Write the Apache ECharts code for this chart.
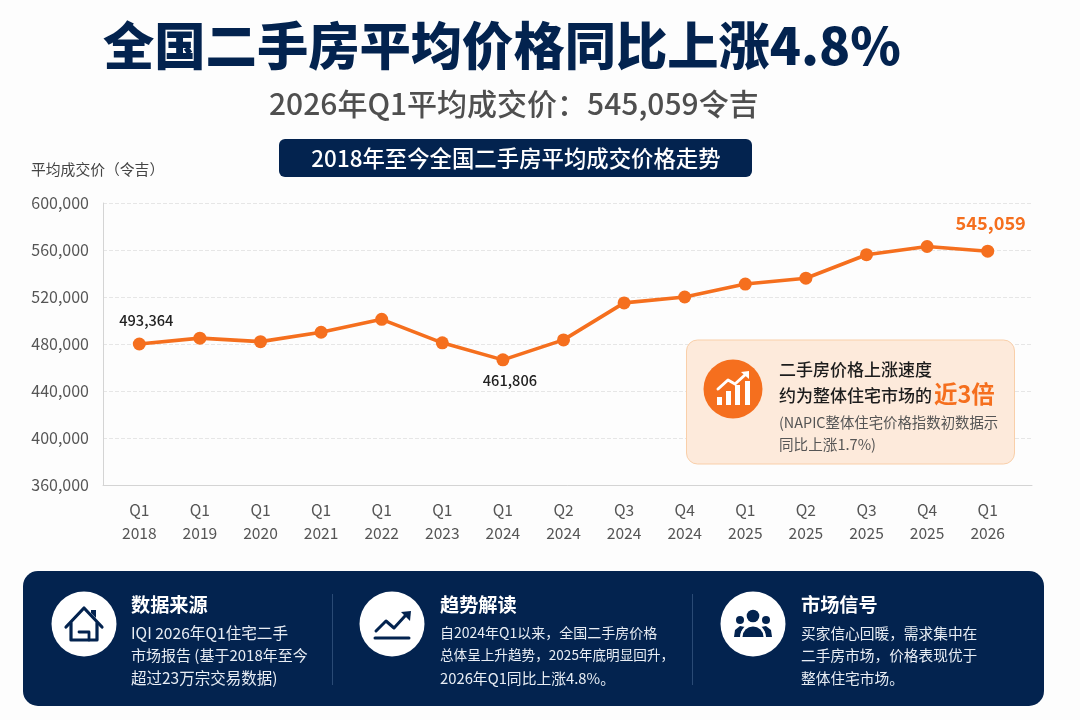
<!DOCTYPE html>
<html><head><meta charset="utf-8">
<script src="https://cdn.jsdelivr.net/npm/echarts@6/dist/echarts.min.js"></script>
<style>html,body{margin:0;padding:0;background:#fdfdfd}#c{width:1080px;height:720px}</style>
</head><body><div id="c"></div>
<script>
const categories=['Q1\n2018','Q1\n2019','Q1\n2020','Q1\n2021','Q1\n2022','Q1\n2023','Q1\n2024','Q2\n2024','Q3\n2024','Q4\n2024','Q1\n2025','Q2\n2025','Q3\n2025','Q4\n2025','Q1\n2026'];
const prices=[480000,485000,482000,490000,501000,481000,466500,483500,515000,520000,531000,536000,556000,563000,559000];
const calloutLabels={0:'493,364',6:'461,806',14:'545,059'};
const FONT='"Noto Sans CJK SC","Noto Sans",sans-serif';
const NAVY='#03234f',ORANGE='#f56f1e';
function txt(x,y,s,size,fill,weight,align){return {type:'text',x,y,silent:true,z:10,style:{text:s,fill,font:(weight||400)+' '+size+'px '+FONT,textAlign:align||'left',textVerticalAlign:'middle'}};}
function rrect(x,y,w,h,r,fill,stroke){return {type:'rect',silent:true,z:5,shape:{x,y,width:w,height:h,r},style:{fill,stroke:stroke||null,lineWidth:stroke?1:0}};}
const poly=(points,fill)=>({type:'polygon',silent:true,z:8,shape:{points},style:{fill}});
const pline=(points,stroke,lw)=>({type:'polyline',silent:true,z:8,shape:{points},style:{fill:null,stroke,lineWidth:lw,lineJoin:'round',lineCap:'round'}});
const circle=(cx,cy,r,fill)=>({type:'circle',silent:true,z:7,shape:{cx,cy,r},style:{fill}});
const dome=(cx,cy,r,fill)=>({type:'sector',silent:true,z:10,shape:{cx,cy,r,r0:0,startAngle:Math.PI,endAngle:2*Math.PI},style:{fill}});
const bar=(x,y,w,h,fill)=>({type:'rect',silent:true,z:8,shape:{x,y,width:w,height:h},style:{fill}});
const BODY='#e8edf4';
const graphics=[
 txt(103,46,'全国二手房平均价格同比上涨4.8%',51.3,NAVY,900),
 txt(269,104,'2026年Q1平均成交价：545,059令吉',30,'#4f4f4f',500),
 rrect(279,139,473,38,6,NAVY),
 txt(516,158,'2018年至今全国二手房平均成交价格走势',22.4,'#ffffff',500,'center'),
 txt(31,169,'平均成交价（令吉）',14.8,'#444444',400),
 rrect(686.5,340,328,124,11,'#fdeadb','#f9cfa9'),
 circle(733,389,29.5,ORANGE),
 rrect(23,571,1021,135,15,NAVY),
 txt(779,370,'二手房价格上涨速度',17,'#1c1c1c',500),
 txt(779,396,'约为整体住宅市场的',17,'#1c1c1c',500),
 txt(934,394,'近3倍',23.5,ORANGE,700),
 txt(779,423,'(NAPIC整体住宅价格指数初数据示',14.4,'#555555',400),
 txt(779,444,'同比上涨1.7%)',14.6,'#555555',400),
 circle(84,624,32.5,'#ffffff'),circle(392,624,32.5,'#ffffff'),circle(753,624,32.5,'#ffffff'),
 {type:'rect',silent:true,z:6,shape:{x:332,y:594,width:1,height:91},style:{fill:'#2a4a75'}},
 {type:'rect',silent:true,z:6,shape:{x:692,y:594,width:1,height:91},style:{fill:'#2a4a75'}},
 txt(131,605,'数据来源',19.2,'#ffffff',700),
 txt(131,633,'IQI 2026年Q1住宅二手',15.6,BODY),
 txt(131,655,'市场报告 (基于2018年至今',15,BODY),
 txt(131,678,'超过23万宗交易数据)',15.5,BODY),
 txt(440,605,'趋势解读',19.2,'#ffffff',700),
 txt(440,633,'自2024年Q1以来，全国二手房价格',14,BODY),
 txt(440,655,'总体呈上升趋势，2025年底明显回升，',13.6,BODY),
 txt(440,678,'2026年Q1同比上涨4.8%。',14.8,BODY),
 txt(801,605,'市场信号',19.2,'#ffffff',700),
 txt(801,633,'买家信心回暖，需求集中在',14.7,BODY),
 txt(801,655,'二手房市场，价格表现优于',14.7,BODY),
 txt(801,678,'整体住宅市场。',14.7,BODY),
 // rising-bars icon
 bar(717,397,5,8,'#fff'),bar(726,391,5,14,'#fff'),bar(735,385,5,20,'#fff'),bar(745,381,5,24,'#fff'),
 pline([[718,389],[728,380],[735,384],[746,374]],'#ffffff',3),
 poly([[741,372],[749,371],[749,379]],'#ffffff'),
 // house icon
 pline([[66,627],[84,608],[102,627]],NAVY,3.2),
 pline([[71,623],[71,640],[97,640],[97,623]],NAVY,3.2),
 pline([[79,632],[89,632],[89,640]],NAVY,2.8),
 poly([[91,610],[96,610],[96,618],[91,613]],NAVY),
 // trend icon
 pline([[375,638],[409,638]],NAVY,3),
 pline([[376,631],[386,621],[394,628],[405,616]],NAVY,3),
 poly([[401,612],[411,611],[410,621]],NAVY),
 // people icon
 circle(753,616,6.3,NAVY),circle(740,620,4,NAVY),circle(766,620,4,NAVY),
 {type:'circle',silent:true,z:9,shape:{cx:753,cy:636,r:12.5},style:{fill:'#fff'}},
 dome(753,637,10.5,NAVY),
 poly([[734,637],[735,630],[740,626],[745,627],[741,632],[740,637]],NAVY),
 poly([[772,637],[771,630],[766,626],[761,627],[765,632],[766,637]],NAVY)
];
const seriesData=prices.map((v,i)=>{
  const t=calloutLabels[i];
  if(t===undefined)return v;
  const last=i===14, low=i===6;
  return {value:v,label:{show:true,formatter:t,position:low?'bottom':'top',
    distance:low?7:(last?12:10),offset:i===0?[7,0]:(last?[3,0]:[7,0]),
    fontFamily:FONT,fontSize:last?18.2:14.6,fontWeight:last?700:500,color:last?ORANGE:'#222222'}};
});
const chart=echarts.init(document.getElementById('c'),null,{renderer:'canvas'});
chart.setOption({
 animation:false,backgroundColor:'#fdfdfd',
 textStyle:{fontFamily:FONT},
 grid:[
  {left:103,width:929,top:203,height:282},
  {left:109,width:909,top:203,height:282}
 ],
 xAxis:[
  {gridIndex:0,type:'category',data:[],axisLine:{lineStyle:{color:'#d4d4d4'}},axisTick:{show:false},axisLabel:{show:false}},
  {gridIndex:1,type:'category',data:categories,boundaryGap:true,axisLine:{show:false},axisTick:{show:false},
   axisLabel:{color:'#555555',fontSize:15.6,lineHeight:23,margin:14,interval:0,fontFamily:FONT}}
 ],
 yAxis:[
  {gridIndex:0,type:'value',min:360000,max:600000,interval:40000,
   axisLine:{show:true,lineStyle:{color:'#d4d4d4'}},axisTick:{show:false},
   splitLine:{lineStyle:{color:'#e6e6e6',type:'dashed'}},
   axisLabel:{color:'#555555',fontSize:16,margin:14,fontFamily:FONT,formatter:v=>v.toLocaleString('en-US')}},
  {gridIndex:1,type:'value',min:360000,max:600000,interval:40000,show:false,splitLine:{show:false}}
 ],
 series:[{type:'line',xAxisIndex:1,yAxisIndex:1,data:seriesData,symbol:'circle',symbolSize:13,smooth:false,
  lineStyle:{color:ORANGE,width:3.6},itemStyle:{color:ORANGE},z:3}],
 graphic:{elements:graphics}
});
</script></body></html>
